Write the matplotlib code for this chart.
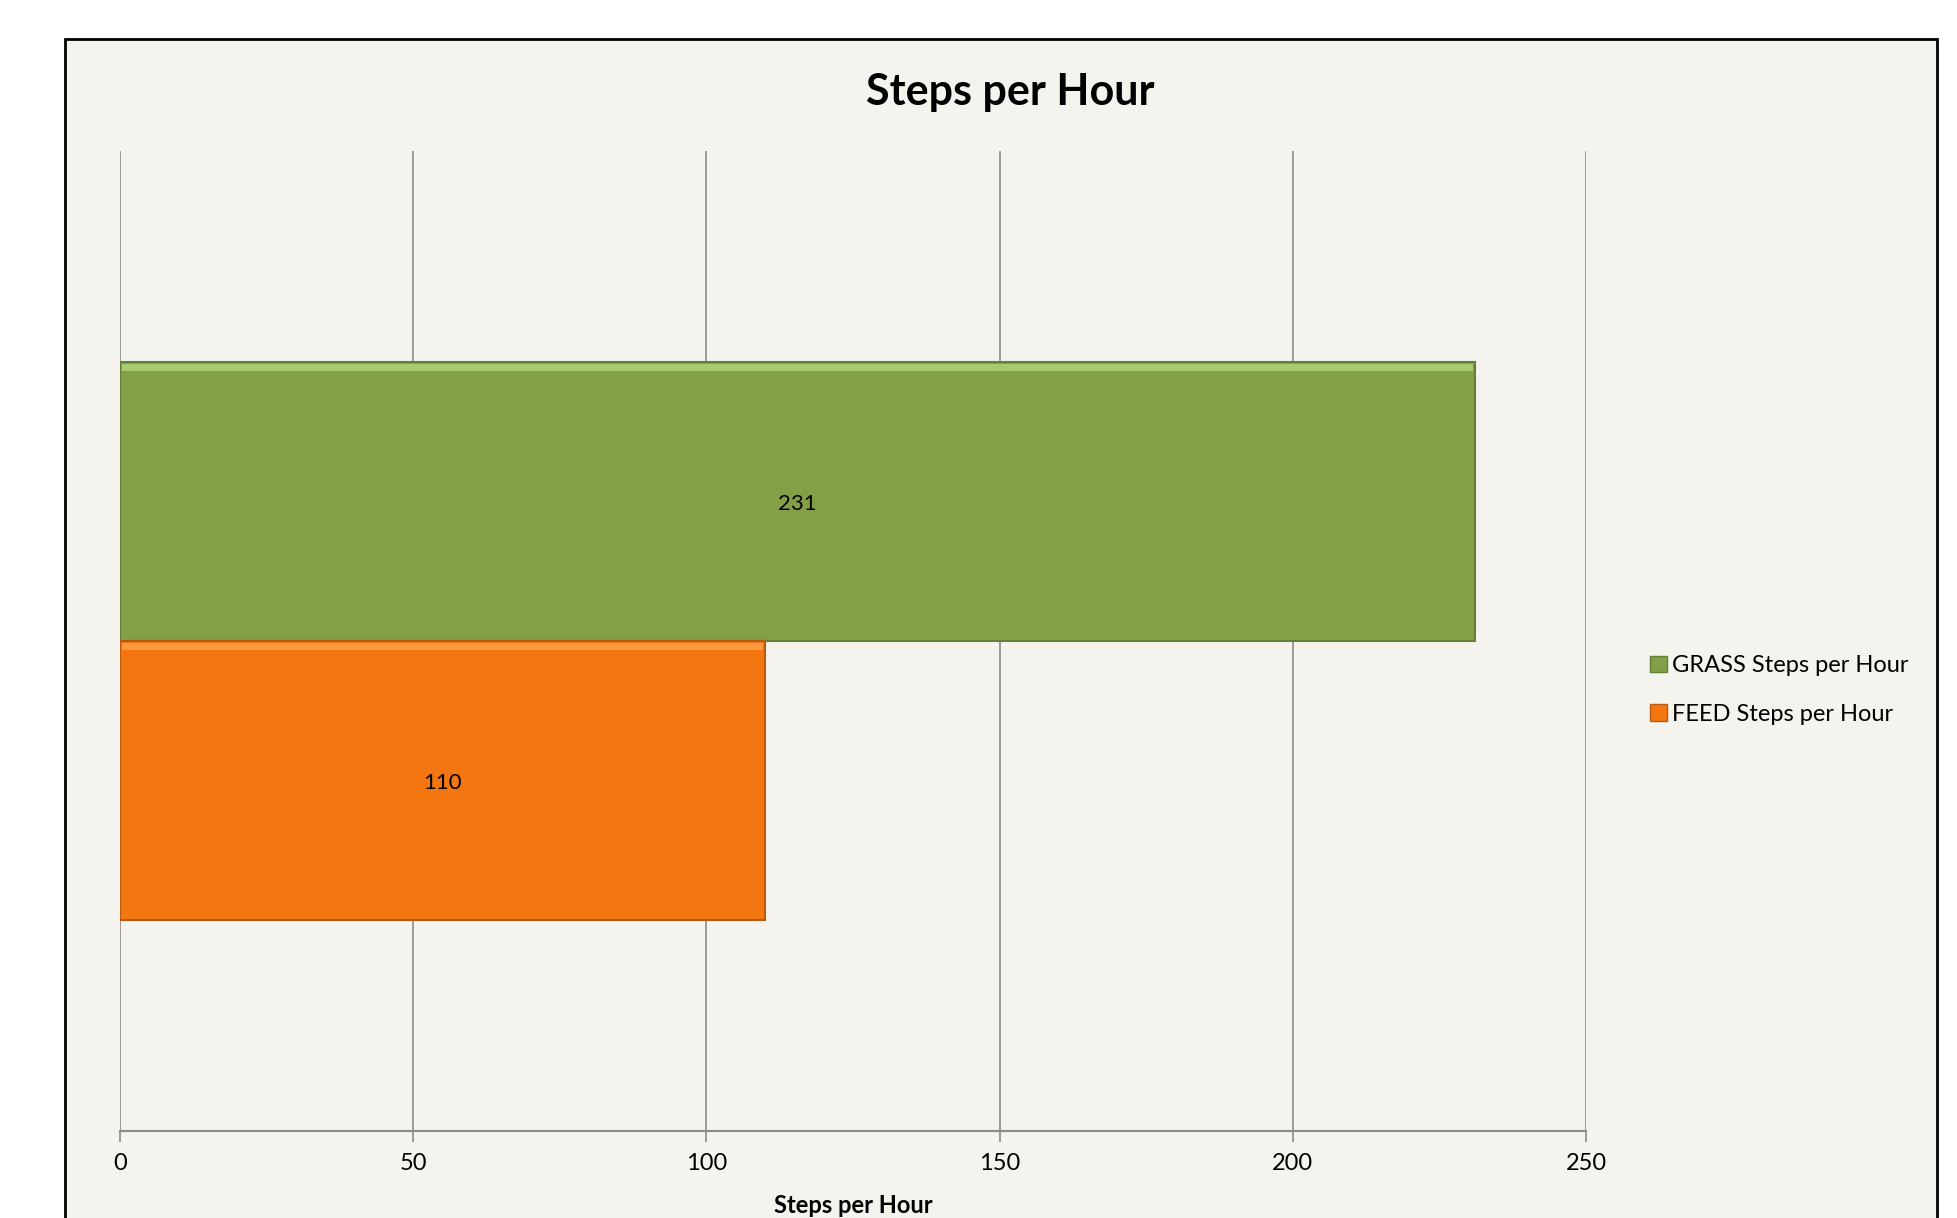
import matplotlib
matplotlib.use('Agg')
import matplotlib.pyplot as plt
from matplotlib.patches import Rectangle, Patch

plt.rcParams['font.family'] = ['Lato', 'DejaVu Sans']

# data
series = ['GRASS Steps per Hour', 'FEED Steps per Hour']
values = [231, 110]
colors = ['#83A046', '#F37610']
edges = ['#62803A', '#B85A10']
highlights = ['#A8C96E', '#FB9A3C']
xticks = [0, 50, 100, 150, 200, 250]

bg = '#F4F3ED'
W, H = 1957, 1218
fig = plt.figure(figsize=(W / 100, H / 100), dpi=100)
fig.patch.set_facecolor('white')

# chart frame (bottom runs off the image)
frame = Rectangle((65 / W, -0.05), (1937 - 65) / W, 1.05 - 39 / H,
                  transform=fig.transFigure, facecolor=bg,
                  edgecolor='black', linewidth=2, zorder=-5)
fig.patches.append(frame)

ax = fig.add_axes([120 / W, 1 - 1131 / H, (1586 - 120) / W, (1131 - 151) / H])
ax.set_zorder(2)
ax.patch.set_alpha(0)

ypos = [0.25, -0.25]
h = 0.5
for y, v, c, e, hl in zip(ypos, values, colors, edges, highlights):
    ax.barh(y, v, height=h, color=c, edgecolor=e, linewidth=1.5, zorder=3)
    # light bevel strip along top
    ax.barh(y + h / 2 - 0.01, v - 0.6, height=0.013, left=0.3, color=hl,
            linewidth=0, zorder=4)
    ax.text(v / 2, y - 0.005, str(v), ha='center', va='center', fontsize=16,
            color='black', zorder=5)

ax.set_xlim(0, 250)
ax.set_ylim(-0.878, 0.878)
ax.set_xticks(xticks)
ax.set_yticks([])
ax.grid(axis='x', color='#8C8C8C', linewidth=1.2, zorder=0)
for s in ['top', 'right', 'left']:
    ax.spines[s].set_visible(False)
ax.spines['bottom'].set_color('#8C8C8C')
ax.spines['bottom'].set_linewidth(1.5)
ax.tick_params(axis='x', direction='out', length=8, width=1.2,
               color='#8C8C8C', labelsize=17, pad=8)
ax.set_xlabel('Steps per Hour', fontsize=17, fontweight='bold', labelpad=14)

fig.text(1010 / W, 1 - 92 / H, 'Steps per Hour', ha='center', va='center',
         fontsize=31, fontweight='bold')

handles = [Patch(facecolor=c, edgecolor=e) for c, e in zip(colors, edges)]
fig.legend(handles, series, loc='center left',
           bbox_to_anchor=(1650 / W, 1 - 690 / H), frameon=False,
           fontsize=17, handlelength=0.7, handleheight=0.7,
           handletextpad=0.25, labelspacing=1.15, borderpad=0,
           borderaxespad=0)

fig.savefig('out.png', dpi=100)
